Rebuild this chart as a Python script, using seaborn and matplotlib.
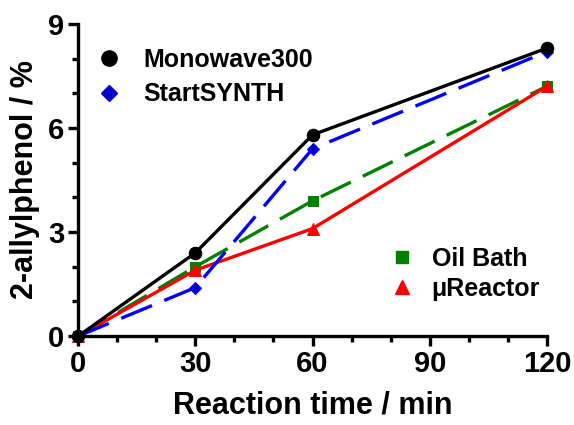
import pandas as pd
import matplotlib.pyplot as plt
import seaborn as sns
import numpy as np
from matplotlib.lines import Line2D
from matplotlib.ticker import MultipleLocator

# Reaction times (min) and yields (%)
time_min = [0, 30, 60, 120]
monowave = [0, 2.4, 5.8, 8.3]
startsynth = [0, 1.4, 5.4, 8.2]
oil_bath = [0, 2.0, 3.9, 7.2]
ureactor = [0, 1.9, 3.1, 7.2]

sns.set_style('ticks')
plt.rcParams['font.family'] = ['Liberation Sans', 'DejaVu Sans']
plt.rcParams['font.weight'] = 'bold'
for k in ['text.color', 'axes.labelcolor', 'xtick.color', 'ytick.color', 'axes.edgecolor']:
    plt.rcParams[k] = 'black'

fig = plt.figure(figsize=(5.74, 4.25), dpi=100)
ax = fig.add_axes([0.136, 0.209, 0.817, 0.735])

lw = 2.4
sns.lineplot(x=time_min, y=oil_bath, ax=ax, color='#008000', marker='s', markersize=7,
             markeredgecolor='#008000', linewidth=lw, linestyle=(0, (10, 4)), clip_on=False)
sns.lineplot(x=time_min, y=ureactor, ax=ax, color='#ff0000', marker='^', markersize=9,
             markeredgecolor='#ff0000', linewidth=lw, clip_on=False)
sns.lineplot(x=time_min, y=startsynth, ax=ax, color='#0000ff', marker='D', markersize=6,
             markeredgecolor='#0000ff', markerfacecolor='#0000cc', linewidth=lw,
             linestyle=(0, (10, 4)), clip_on=False)
sns.lineplot(x=time_min, y=monowave, ax=ax, color='black', marker='o', markersize=9,
             markeredgecolor='black', linewidth=lw, clip_on=False)

ax.set_xlim(0, 120)
ax.set_ylim(0, 9)
ax.xaxis.set_major_locator(MultipleLocator(30))
ax.xaxis.set_minor_locator(MultipleLocator(10))
ax.yaxis.set_major_locator(MultipleLocator(3))
ax.yaxis.set_minor_locator(MultipleLocator(1))
ax.tick_params(which='major', length=7, width=2.4, labelsize=21, pad=3)
ax.tick_params(which='minor', length=4.5, width=2.4)
for lab in ax.get_xticklabels() + ax.get_yticklabels():
    lab.set_fontweight('bold')
sns.despine(ax=ax)
for s in ['left', 'bottom']:
    ax.spines[s].set_linewidth(2.4)

ax.set_xlabel('Reaction time / min', fontsize=22, fontweight='bold', labelpad=9)
ax.set_ylabel('2-allylphenol / %', fontsize=22, fontweight='bold', labelpad=6)

h1 = [Line2D([], [], color='black', marker='o', linestyle='none', markersize=11),
      Line2D([], [], color='#0000cc', marker='D', linestyle='none', markersize=8)]
leg1 = ax.legend(h1, ['Monowave300', 'StartSYNTH'], loc='upper left',
                 bbox_to_anchor=(-0.021, 0.995), frameon=False, prop={'size': 18, 'weight': 'bold'},
                 handletextpad=0.62, labelspacing=0.42, handlelength=1.5)
ax.add_artist(leg1)
h2 = [Line2D([], [], color='#008000', marker='s', linestyle='none', markersize=8),
      Line2D([], [], color='#ff0000', marker='^', linestyle='none', markersize=10)]
ax.legend(h2, ['Oil Bath', '\u03bcReactor'], loc='lower right',
          bbox_to_anchor=(1.033, 0.04), frameon=False, prop={'size': 18, 'weight': 'bold'},
          handletextpad=0.45, labelspacing=0.25, handlelength=1.5)

plt.savefig('out.png', dpi=100)
plt.close()
